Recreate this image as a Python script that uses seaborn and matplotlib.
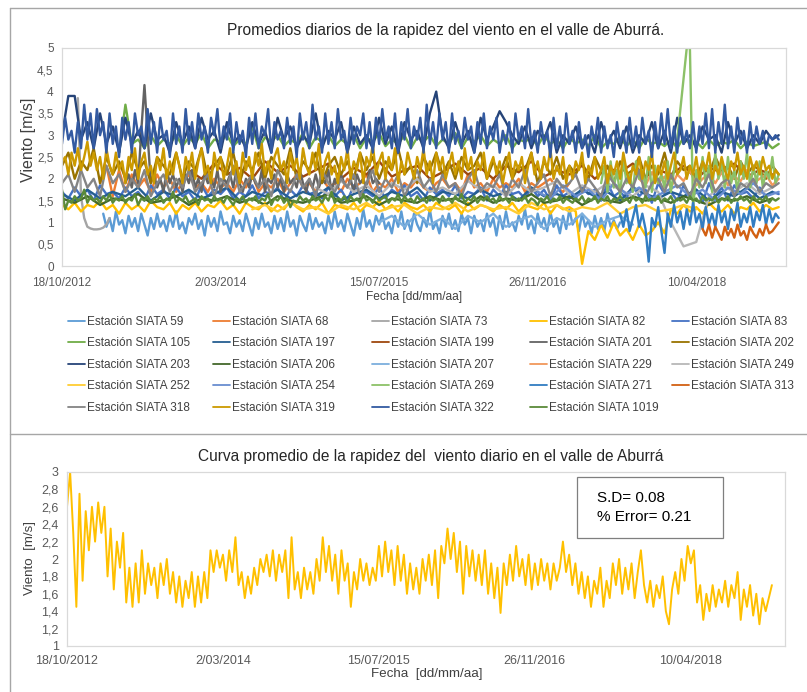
import numpy as np
import pandas as pd
import matplotlib
matplotlib.use("Agg")
import matplotlib.pyplot as plt
from matplotlib.patches import Rectangle
from matplotlib.lines import Line2D
from matplotlib.ticker import FixedLocator, FuncFormatter
import matplotlib.dates as mdates
import seaborn as sns

sns.set_theme(style="white")
plt.rcParams["font.family"] = ["Liberation Sans", "DejaVu Sans"]

# ------------------------------------------------------------------ data
fecha_inicio = pd.Timestamp("2012-10-18")

estaciones = ["59", "68", "73", "82", "83", "105", "197", "199", "201", "202",
              "203", "206", "207", "229", "249", "252", "254", "269", "271",
              "313", "318", "319", "322", "1019"]

colores = ["#5B9BD5", "#ED7D31", "#A5A5A5", "#FFC000", "#4472C4", "#70AD47",
           "#255E91", "#9E480E", "#636363", "#997300", "#264478", "#43682B",
           "#7CAFDD", "#F1975A", "#B7B7B7", "#FFCD33", "#698ED0", "#8CC168",
           "#327DC2", "#D26012", "#848484", "#CC9A00", "#335AA1", "#5A8A39"]

# first day of each record (days after fecha_inicio) and spacing of the samples
inicio = {"59": 130, "68": 120, "73": 50, "82": 0, "83": 0, "105": 180,
          "197": 0, "199": 400, "201": 200, "202": 0, "203": 0, "206": 0,
          "207": 1000, "229": 1820, "249": 800, "252": 600, "254": 1500,
          "269": 1700, "271": 1760, "313": 2020, "318": 0, "319": 0,
          "322": 0, "1019": 0}
paso = {"59": 10, "68": 20, "73": 10, "82": 20, "83": 20, "105": 20,
        "197": 40, "199": 40, "201": 10, "202": 20, "203": 20, "206": 40,
        "207": 40, "229": 20, "249": 40, "252": 40, "254": 40, "269": 10,
        "271": 10, "313": 10, "318": 20, "319": 10, "322": 10, "1019": 10}

v59 = [1.2, 0.9, 1.1, 0.8, 1.25, 0.95, 1.05, 0.75, 1.15, 0.9,
       1.1, 0.8, 1.2, 0.95, 0.7, 1.1, 0.85, 1.2, 0.9, 1.05,
       0.8, 1.15, 0.9, 1.25, 0.85, 1.0, 0.75, 1.1, 0.95, 1.2,
       0.85, 1.05, 0.7, 1.15, 0.9, 1.1, 0.8, 1.25, 0.95, 1.0,
       0.75, 1.15, 0.9, 1.05, 0.8, 1.2, 0.95, 0.7, 1.1, 0.85,
       1.2, 0.9, 1.0, 0.75, 1.15, 0.85, 1.1, 0.8, 1.25, 0.9,
       1.05, 0.7, 1.15, 0.95, 0.8, 1.2, 0.85, 1.1, 0.9, 1.0,
       0.75, 1.15, 0.85, 1.25, 0.9, 1.05, 0.8, 1.2, 0.95, 0.7,
       1.1, 0.85, 1.3, 0.9, 1.05, 0.8, 1.15, 0.95, 1.2, 0.85,
       1.0, 0.75, 1.15, 0.9, 1.25, 0.85, 1.05, 0.8, 1.2, 0.95,
       0.8, 1.1, 0.9, 1.3, 0.85, 1.0, 0.75, 1.15, 0.9, 1.2,
       0.85, 1.05, 0.8, 1.2, 0.95, 1.1, 0.75, 1.15, 0.9, 1.05,
       0.8, 1.2, 0.9, 1.1, 0.7, 1.15, 0.85, 1.25, 0.9, 1.0,
       0.8, 1.15, 0.95, 1.3, 0.85, 1.05, 0.75, 1.2, 0.9, 1.1,
       0.8, 1.25, 0.9, 1.05, 0.75, 1.15, 0.85, 1.3, 0.95, 1.1,
       0.8, 1.2, 0.9, 1.05, 0.75, 1.15, 0.85, 1.1, 0.8, 1.2,
       0.9, 1.05, 0.85, 1.0]
v68 = [1.9, 2.3, 1.6, 2.2, 1.7, 2.1, 1.8, 2.0, 1.7, 2.1,
       1.8, 2.0, 1.7, 1.9, 2.1, 1.8, 1.9, 1.7, 2.0, 1.8,
       1.9, 1.7, 2.0, 1.8, 2.1, 1.7, 1.9, 1.8, 2.0, 1.7,
       1.9, 2.1, 1.8, 1.9, 1.7, 2.0, 1.8, 1.9, 1.7, 2.0,
       1.8, 1.9, 2.1, 1.7, 1.9, 1.8, 2.0, 1.7, 1.9, 1.8,
       2.0, 1.8, 1.7, 1.9, 2.0, 1.8, 1.9, 1.7, 2.1, 1.8,
       1.9, 1.7, 2.0, 1.8, 1.9, 1.8, 2.0, 1.7, 1.9, 1.8,
       1.9, 2.0, 1.8, 1.7, 1.9]
v73 = [3.85, 1.6, 1.1, 0.9, 0.86, 0.84, 0.84, 0.85, 0.88, 0.95, 1.1]
v82 = [1.4, 1.3, 1.45, 1.25, 1.4, 1.35, 1.5, 1.3, 1.4, 1.2,
       1.45, 1.3, 1.4, 1.25, 1.5, 1.35, 1.3, 1.45, 1.2, 1.4,
       1.3, 1.45, 1.25, 1.4, 1.35, 1.5, 1.3, 1.4, 1.2, 1.45,
       1.35, 1.3, 1.45, 1.25, 1.4, 1.3, 1.5, 1.35, 1.25, 1.4,
       1.3, 1.45, 1.2, 1.4, 1.35, 1.3, 1.45, 1.25, 1.4, 1.35,
       1.5, 1.3, 1.4, 1.25, 1.45, 1.35, 1.3, 1.4, 1.25, 1.45,
       1.35, 1.3, 1.4, 1.2, 1.45, 1.3, 1.4, 1.35, 1.25, 1.4,
       1.3, 1.45, 1.25, 1.4, 1.35, 1.3, 1.45, 1.2, 1.4, 1.3,
       1.35, 1.25, 0.05, 0.8, 0.6, 0.95, 0.65, 1.0, 0.7, 0.85,
       0.6, 0.95, 0.7, 0.8, 1.0, 0.75, 1.3, 1.2, 1.4, 1.25,
       1.35, 1.2, 1.45, 1.3, 1.25, 1.4, 1.2, 1.35, 1.3, 1.45,
       1.25, 1.4, 1.3, 1.35]
v83 = [1.7, 1.55, 1.8, 1.6, 1.75, 1.5, 1.85, 1.65, 1.7, 1.55,
       1.8, 1.6, 1.7, 1.5, 1.85, 1.65, 1.75, 1.55, 1.8, 1.6,
       1.7, 1.5, 1.85, 1.6, 1.75, 1.65, 1.8, 1.55, 1.7, 1.6,
       1.85, 1.55, 1.7, 1.65, 1.8, 1.5, 1.75, 1.6, 1.85, 1.65,
       1.7, 1.55, 1.8, 1.6, 1.75, 1.5, 1.85, 1.65, 1.7, 1.6,
       1.8, 1.55, 1.75, 1.65, 1.85, 1.6, 1.7, 1.5, 1.8, 1.65,
       1.75, 1.6, 1.85, 1.55, 1.7, 1.65, 1.8, 1.5, 1.75, 1.6,
       1.85, 1.65, 1.7, 1.55, 1.8, 1.6, 1.75, 1.5, 1.85, 1.6,
       1.7, 1.55, 1.8, 1.65, 1.75, 1.5, 1.9, 1.6, 1.7, 1.55,
       1.85, 1.6, 1.75, 1.45, 1.9, 1.65, 1.7, 1.5, 1.85, 1.6,
       1.75, 1.45, 1.9, 1.6, 1.8, 1.5, 1.85, 1.65, 1.7, 1.55,
       1.8, 1.6, 1.7, 1.65]
v105 = [2.6, 3.7, 2.8, 2.9, 2.7, 3.0, 2.75, 2.9, 2.8, 3.0,
        2.75, 2.95, 2.8, 3.05, 2.7, 2.9, 2.85, 3.0, 2.75, 2.9,
        2.8, 3.2, 2.7, 2.95, 2.85, 3.0, 2.75, 2.9, 2.8, 3.05,
        2.7, 2.95, 2.85, 3.0, 2.75, 2.9, 2.8, 3.0, 2.7, 2.95,
        2.85, 3.05, 2.75, 2.9, 2.8, 3.0, 2.7, 2.95, 2.85, 3.0,
        2.75, 2.9, 2.8, 3.05, 2.7, 2.95, 2.85, 3.0, 2.75, 2.9,
        2.8, 3.0, 2.7, 2.9, 2.85, 2.95, 2.75, 3.0, 2.8, 2.9,
        2.7, 2.95, 2.8, 2.9, 2.75, 3.0, 2.7, 2.85, 2.8, 2.95,
        2.75, 2.9, 2.7, 2.95, 2.8, 2.85, 2.75, 2.9, 2.7, 2.95,
        2.8, 2.85, 2.7, 2.9, 2.75, 2.85, 2.8, 2.9, 2.7, 2.85,
        2.75, 2.8, 2.85, 2.7, 2.8]
v197 = [1.65, 1.5, 1.75, 1.55, 1.7, 1.6, 1.8, 1.5, 1.7, 1.6,
        1.75, 1.55, 1.65, 1.8, 1.5, 1.7, 1.6, 1.75, 1.55, 1.7,
        1.6, 1.8, 1.5, 1.65, 1.75, 1.55, 1.7, 1.6, 1.8, 1.5,
        1.7, 1.65, 1.55, 1.75, 1.6, 1.7, 1.5, 1.8, 1.6, 1.65,
        1.55, 1.75, 1.6, 1.7, 1.5, 1.8, 1.65, 1.55, 1.7, 1.6,
        1.75, 1.5, 1.7, 1.6, 1.8, 1.55, 1.7]
v199 = [2.2, 2.0, 2.35, 2.1, 2.25, 2.0, 2.4, 2.15, 2.3, 2.05,
        2.2, 2.35, 2.0, 2.25, 2.1, 2.4, 2.05, 2.2, 2.3, 2.0,
        2.15, 2.35, 2.1, 2.25, 2.0, 2.3, 2.15, 2.4, 2.05, 2.2,
        2.1, 2.3, 2.0, 2.25, 2.15, 2.35, 2.05, 2.2, 2.1, 2.3,
        2.0, 2.25, 2.15, 2.35, 2.05, 2.2, 2.1]
v201 = [1.9, 2.1, 1.8, 2.2, 1.9, 3.1, 4.15, 3.0, 1.9, 2.1,
        1.8, 2.0, 1.7, 2.2, 1.9, 2.1, 1.8, 2.0, 1.7, 2.1,
        1.9, 2.2, 1.8, 2.0, 1.7, 2.1, 1.9, 2.0, 1.8, 2.2,
        1.7, 2.0, 1.9, 2.1, 1.8, 2.2, 1.9, 1.7, 2.0, 1.8,
        2.1, 1.9, 1.8, 2.2, 1.7, 2.0, 1.9, 2.1, 1.8, 2.0,
        1.7, 2.1, 1.9, 2.0, 1.8, 2.2, 1.9, 1.7, 2.0, 1.8,
        2.1, 1.8, 2.0, 1.9, 2.2, 1.7, 2.0, 1.8, 2.1, 1.9,
        1.8, 2.0, 1.7, 2.1, 1.9, 2.0, 1.8, 2.2, 1.9, 2.0,
        1.9]
v202 = [2.3, 2.6, 2.0, 2.4, 2.2, 2.7, 1.9, 2.5, 2.1, 2.4,
        2.0, 2.6, 2.2, 2.4, 1.9, 2.5, 2.3, 2.1, 2.6, 2.0,
        2.4, 2.2, 2.7, 2.0, 2.3, 2.5, 2.1, 2.6, 1.9, 2.4,
        2.2, 2.6, 2.0, 2.5, 2.3, 2.1, 2.7, 2.0, 2.4, 2.2,
        2.6, 1.9, 2.3, 2.5, 2.1, 2.4, 2.0, 2.6, 2.2, 2.5,
        2.0, 2.4, 2.2, 2.7, 2.1, 2.3, 1.9, 2.5, 2.2, 2.6,
        2.1, 2.4, 2.0, 2.5, 2.2, 2.3, 2.6, 2.0, 2.4, 2.1,
        2.5, 2.0, 2.3, 2.2, 2.6, 1.9, 2.4, 2.1, 2.5, 2.0,
        2.3, 2.1, 2.4, 2.0, 2.5, 2.2, 2.3, 1.9, 2.4, 2.1,
        2.2, 2.5, 2.0, 2.3, 2.1, 2.6, 2.0, 2.4, 2.2, 2.3,
        2.0, 2.4, 2.1, 2.5, 2.2, 2.3, 2.0, 2.4, 2.1, 2.3,
        2.2, 2.0, 2.3, 2.1]
v203 = [3.0, 3.9, 3.9, 2.9, 3.3, 2.7, 3.5, 2.8, 3.2, 2.6,
        3.4, 2.8, 3.1, 2.7, 3.5, 2.9, 3.0, 2.6, 3.3, 2.8,
        3.2, 2.7, 3.4, 2.9, 3.1, 2.6, 3.3, 2.8, 3.0, 2.7,
        3.3, 2.8, 3.1, 2.6, 3.4, 2.9, 3.2, 2.7, 3.0, 2.8,
        3.5, 2.7, 3.1, 2.9, 3.3, 2.6, 3.2, 2.8, 3.0, 2.7,
        3.4, 2.8, 3.2, 2.6, 3.3, 2.9, 3.1, 2.7, 3.5, 4.0,
        3.0, 2.7, 3.3, 2.8, 3.1, 2.6, 3.4, 2.9, 3.2, 3.55,
        3.3, 3.0, 2.8, 3.2, 2.7, 3.1, 2.9, 3.3, 2.6, 3.0,
        2.8, 3.2, 2.7, 3.0, 2.6, 3.3, 2.8, 3.1, 2.7, 3.2,
        2.6, 3.0, 2.8, 3.3, 2.7, 3.1, 2.6, 3.4, 2.8, 3.0,
        2.7, 3.2, 2.9, 3.0, 2.6, 3.3, 2.8, 3.1, 2.7, 3.0,
        2.8, 3.1, 2.9, 3.0]
v206 = [1.55, 1.45, 1.6, 1.4, 1.55, 1.5, 1.65, 1.45, 1.5, 1.6,
        1.4, 1.55, 1.5, 1.6, 1.45, 1.55, 1.4, 1.6, 1.5, 1.45,
        1.55, 1.65, 1.45, 1.5, 1.6, 1.4, 1.55, 1.5, 1.45, 1.6,
        1.5, 1.55, 1.4, 1.6, 1.45, 1.55, 1.5, 1.65, 1.45, 1.5,
        1.6, 1.4, 1.55, 1.5, 1.45, 1.6, 1.5, 1.55, 1.45, 1.6,
        1.5, 1.4, 1.55, 1.5, 1.6, 1.45, 1.55]
v207 = [1.0, 1.15, 0.9, 1.2, 0.95, 1.1, 0.85, 1.15, 1.0, 1.2,
        0.9, 1.05, 1.15, 0.85, 1.1, 0.95, 1.2, 0.9, 1.05, 1.15,
        0.95]
v229 = [2.0, 1.85, 2.15, 1.9, 2.05, 1.8, 2.1, 1.95, 2.2, 1.85,
        2.0, 2.1, 1.9, 2.15, 1.85, 2.05, 1.95, 2.2, 1.9, 2.0,
        2.1, 1.85, 2.0]
v249 = [1.8, 1.65, 1.95, 1.7, 1.85, 1.6, 1.9, 1.75, 2.0, 1.7,
        1.8, 1.65, 1.95, 1.75, 1.85, 1.6, 1.9, 1.7, 1.8, 1.95,
        1.65, 1.85, 1.7, 1.9, 1.75, 1.6, 1.85, 1.7,
        1.0, 0.45, 0.55, 1.6, 1.85, 1.7, 1.9, 1.65, 1.8]
v252 = [1.3, 1.4, 1.25, 1.45, 1.3, 1.35, 1.2, 1.4, 1.3, 1.45,
        1.25, 1.35, 1.4, 1.2, 1.35, 1.3, 1.45, 1.25, 1.4, 1.3,
        1.35, 1.2, 1.45, 1.3, 1.4, 1.25, 1.35, 1.3, 1.45, 1.2,
        1.35, 1.4, 1.25, 1.3, 1.4, 1.3]
v254 = [1.7, 1.55, 1.85, 1.6, 1.75, 1.5, 1.9, 1.65, 1.8, 1.55,
        1.7, 1.85, 1.6, 1.75, 1.5, 1.8, 1.65, 1.9, 1.6, 1.7]
v269 = [1.9, 2.3, 1.7, 2.4, 1.8, 2.2, 1.6, 2.5, 1.9, 2.1,
        1.7, 2.4, 2.0, 2.2, 1.8, 2.5, 1.7, 2.3, 1.9, 2.1,
        1.8, 2.4, 1.7, 2.2, 2.9, 3.6, 4.3, 5.0, 5.0, 1.3,
        2.2, 1.8, 2.5, 1.9, 2.3, 1.7, 2.6, 2.0, 2.4, 1.8,
        2.5, 1.9, 2.2, 1.7, 2.4, 2.0, 2.6, 1.8, 2.3, 1.9,
        2.4, 1.8, 2.2, 2.0, 2.5, 1.9, 2.1]
v271 = [1.2, 0.9, 1.3, 0.8, 1.1, 1.4, 0.9, 1.2, 0.85, 0.1,
        1.1, 0.9, 1.35, 0.8, 0.3, 1.2, 0.9, 1.4, 1.0, 1.25,
        0.85, 1.3, 0.95, 1.45, 1.0, 1.2, 0.85, 1.35, 0.95, 1.2,
        0.9, 1.4, 1.0, 1.25, 0.85, 1.3, 1.05, 1.45, 0.9, 1.2,
        1.0, 1.35, 0.9, 1.25, 1.05, 1.4, 0.95, 1.3, 1.0, 1.2,
        1.1]
v313 = [0.85, 0.7, 0.95, 0.65, 0.9, 0.75, 0.6, 0.9, 0.7, 0.85,
        0.65, 0.95, 0.7, 0.8, 0.6, 0.9, 0.75, 0.65, 0.85, 0.7,
        0.95, 0.75, 0.8, 0.9, 1.0]
v318 = [1.9, 2.1, 1.7, 2.2, 1.8, 2.0, 1.6, 2.3, 1.9, 2.1,
        1.7, 2.0, 1.8, 2.2, 1.6, 1.9, 2.1, 1.7, 2.0, 1.8,
        2.2, 1.7, 1.9, 2.1, 1.6, 2.0, 1.8, 2.3, 1.7, 1.9,
        2.1, 1.8, 2.0, 1.6, 2.2, 1.9, 1.7, 2.1, 1.8, 2.0,
        1.6, 2.2, 1.9, 1.7, 2.0, 1.8, 2.1, 1.6, 1.9, 2.2,
        1.7, 2.0, 1.8, 2.1, 1.6, 1.9, 2.2, 1.8, 2.0, 1.7,
        2.1, 1.8, 1.9, 1.6, 2.0, 2.2, 1.7, 1.9, 1.8, 2.1,
        1.6, 2.0, 1.8, 2.2, 1.7, 1.9, 2.1, 1.6, 2.0, 1.8,
        1.9, 2.1, 1.7, 2.0, 1.8, 1.6, 2.1, 1.9, 1.7, 2.0,
        1.8, 2.2, 1.6, 1.9, 2.0, 1.7, 2.1, 1.8, 1.9, 1.6,
        2.0, 1.8, 2.1, 1.7, 1.9, 2.0, 1.6, 1.9, 1.8, 2.0,
        1.7, 1.9, 1.8, 1.9]
v319 = [2.4, 2.5, 2.1, 2.6, 2.3, 2.7, 2.2, 2.5, 2.85, 2.3,
        2.6, 2.2, 2.5, 2.0, 2.7, 2.3, 2.1, 2.6, 2.2, 2.4,
        1.9, 2.5, 2.2, 2.7, 2.0, 2.4, 2.6, 2.1, 2.3, 1.9,
        2.5, 2.2, 2.7, 2.0, 2.4, 2.1, 2.6, 2.3, 1.9, 2.5,
        2.2, 2.6, 2.0, 2.4, 2.7, 2.1, 2.3, 1.9, 2.6, 2.2,
        2.5, 2.0, 2.3, 2.7, 2.1, 2.4, 1.9, 2.6, 2.2, 2.5,
        2.0, 2.6, 2.3, 2.8, 2.1, 2.4, 2.0, 2.5, 2.7, 2.2,
        2.4, 1.9, 2.6, 2.2, 2.5, 2.0, 2.7, 2.3, 2.1, 2.6,
        2.2, 2.8, 2.0, 2.4, 2.6, 2.1, 2.3, 1.9, 2.5, 2.2,
        2.7, 2.0, 2.4, 2.2, 2.6, 1.9, 2.5, 2.3, 2.8, 2.1,
        2.4, 2.6, 2.0, 2.5, 2.2, 2.7, 1.9, 2.4, 2.1, 2.6,
        2.3, 2.0, 2.5, 2.2, 2.7, 2.1, 2.4, 1.9, 2.6, 2.2,
        2.5, 2.0, 2.3, 2.6, 2.1, 2.4, 2.0, 2.7, 2.2, 2.5,
        1.9, 2.4, 2.2, 2.6, 2.0, 2.3, 2.5, 2.1, 2.4, 1.9,
        2.3, 2.6, 2.0, 2.4, 2.2, 2.5, 1.9, 2.3, 2.6, 2.1,
        2.4, 2.0, 2.5, 2.2, 2.7, 2.0, 2.3, 2.1, 2.5, 1.9,
        2.3, 2.0, 2.4, 2.2, 2.6, 1.9, 2.3, 2.1, 2.5, 2.0,
        2.2, 2.5, 1.9, 2.3, 2.1, 2.4, 2.0, 2.6, 2.2, 1.9,
        2.3, 2.1, 2.5, 2.0, 2.4, 2.2, 2.6, 1.9, 2.3, 2.1,
        2.4, 2.0, 2.3, 2.6, 2.1, 2.2, 2.5, 2.0, 2.3, 2.1,
        2.5, 2.0, 2.4, 2.2, 2.6, 2.0, 2.3, 2.1, 2.5, 2.2,
        2.0, 2.4, 2.2, 2.6, 2.1, 2.3, 2.0, 2.5, 2.2, 2.4,
        2.1, 2.5, 2.2, 2.3, 2.0, 2.2, 2.1]
v322 = [2.8, 3.4, 2.9, 3.1, 2.6, 3.3, 2.7, 3.7, 2.9, 3.5,
        2.7, 3.6, 3.0, 3.3, 2.6, 3.5, 2.8, 3.2, 2.5, 3.4,
        2.9, 3.3, 2.6, 3.5, 3.0, 3.2, 2.7, 3.6, 2.8, 3.3,
        2.6, 3.4, 2.9, 3.1, 2.5, 3.5, 2.8, 3.2, 2.6, 3.6,
        2.8, 3.3, 2.7, 3.5, 2.9, 3.2, 2.6, 3.4, 3.0, 3.6,
        2.7, 3.2, 2.9, 3.5, 2.6, 3.3, 2.8, 3.1, 2.5, 3.4,
        2.8, 3.5, 2.7, 3.2, 3.0, 3.6, 2.6, 3.3, 2.9, 3.1,
        2.7, 3.4, 2.8, 3.2, 2.5, 3.5, 2.9, 3.3, 2.7, 3.7,
        2.9, 3.2, 2.6, 3.5, 2.8, 3.3, 2.7, 3.6, 2.9, 3.1,
        2.6, 3.4, 2.8, 3.2, 3.0, 3.5, 2.7, 3.3, 2.6, 3.4,
        2.8, 3.6, 2.9, 3.2, 2.7, 3.5, 2.6, 3.3, 2.9, 3.6,
        2.7, 3.2, 2.9, 3.4, 2.6, 3.7, 2.8, 3.3, 2.7, 3.5,
        2.9, 3.3, 2.6, 3.5, 2.8, 3.1, 2.7, 3.4, 2.9, 3.2,
        2.6, 3.3, 2.8, 3.5, 2.7, 3.2, 2.9, 3.4, 2.6, 3.1,
        2.8, 3.3, 2.6, 3.5, 2.9, 3.2, 2.7, 3.6, 2.8, 3.1,
        2.6, 3.3, 2.8, 3.1, 2.5, 3.4, 2.7, 3.2, 2.6, 3.5,
        2.8, 3.1, 2.6, 3.3, 2.7, 3.0, 2.5, 3.2, 2.8, 3.4,
        2.6, 3.2, 2.7, 3.0, 2.5, 3.3, 2.8, 3.1, 2.6, 3.4,
        2.7, 3.2, 2.6, 3.4, 2.8, 3.1, 2.5, 3.3, 2.7, 3.5,
        2.8, 3.6, 2.7, 3.2, 2.6, 3.4, 2.8, 3.1, 2.7, 3.3,
        2.6, 3.2, 2.8, 3.5, 2.7, 3.6, 2.6, 3.3, 2.8, 3.7,
        2.7, 3.2, 2.6, 3.4, 2.8, 3.1, 2.6, 3.3, 2.7, 3.2,
        2.8, 3.1, 2.7, 3.0, 2.9, 3.0, 2.9]
v1019 = [1.75, 1.3, 1.5, 1.45, 1.6, 1.5, 1.55, 1.75, 1.45, 1.6,
         1.5, 1.55, 1.45, 1.6, 1.5, 1.65, 1.45, 1.55, 1.5, 1.6,
         1.45, 1.55, 1.5, 1.65, 1.4, 1.55, 1.5, 1.6, 1.45, 1.55,
         1.5, 1.6, 1.45, 1.55, 1.5, 1.7, 1.45, 1.55, 1.5, 1.6,
         1.45, 1.5, 1.55, 1.4, 1.6, 1.5, 1.55, 1.45, 1.6, 1.5,
         1.55, 1.45, 1.6, 1.5, 1.4, 1.55, 1.5, 1.6, 1.45, 1.55,
         1.5, 1.6, 1.45, 1.55, 1.5, 1.65, 1.4, 1.55, 1.5, 1.6,
         1.45, 1.55, 1.35, 1.5, 1.45, 1.6, 1.5, 1.55, 1.45, 1.6,
         1.5, 1.55, 1.45, 1.6, 1.5, 1.7, 1.45, 1.55, 1.5, 1.6,
         1.45, 1.6, 1.5, 1.55, 1.45, 1.65, 1.5, 1.55, 1.45, 1.6,
         1.5, 1.55, 1.6, 1.45, 1.55, 1.5, 1.65, 1.45, 1.6, 1.5,
         1.55, 1.45, 1.6, 1.5, 1.55, 1.45, 1.6, 1.5, 1.55, 1.45,
         1.6, 1.5, 1.55, 1.45, 1.6, 1.5, 1.65, 1.45, 1.55, 1.5,
         1.6, 1.45, 1.55, 1.5, 1.6, 1.5, 1.55, 1.45, 1.6, 1.5,
         1.55, 1.45, 1.6, 1.5, 1.55, 1.5, 1.6, 1.45, 1.55, 1.5,
         1.4, 1.55, 1.5, 1.6, 1.45, 1.55, 1.5, 1.6, 1.45, 1.55,
         1.5, 1.45, 1.55, 1.5, 1.6, 1.45, 1.55, 1.5, 1.6, 1.45,
         1.55, 1.5, 1.6, 1.45, 1.55, 1.5, 1.6, 1.5, 1.55, 1.45,
         1.6, 1.5, 1.55, 1.45, 1.6, 1.5, 1.55, 1.5, 1.6, 1.45,
         1.55, 1.5, 1.6, 1.45, 1.55, 1.5, 1.55, 1.45, 1.6, 1.5,
         1.55, 1.45, 1.6, 1.5, 1.55, 1.5, 1.6, 1.45, 1.55, 1.5,
         1.6, 1.45, 1.55, 1.5, 1.6, 1.5, 1.55, 1.45, 1.6, 1.5,
         1.55, 1.5, 1.6, 1.45, 1.55, 1.5, 1.55]

valores = {"59": v59, "68": v68, "73": v73, "82": v82, "83": v83,
           "105": v105, "197": v197, "199": v199, "201": v201, "202": v202,
           "203": v203, "206": v206, "207": v207, "229": v229, "249": v249,
           "252": v252, "254": v254, "269": v269, "271": v271, "313": v313,
           "318": v318, "319": v319, "322": v322, "1019": v1019}

# valley-wide daily mean (10-day samples)
promedio_paso = 10
promedio = [2.6, 3.0, 2.3, 1.45, 2.75, 1.75, 2.55, 2.1, 2.6, 2.2,
            2.65, 2.3, 2.6, 1.8, 2.35, 1.65, 2.2, 1.9, 2.3, 1.5,
            1.9, 1.45, 1.95, 1.5, 2.1, 1.6, 1.95, 1.7, 1.9, 1.55,
            1.95, 1.7, 2.0, 1.6, 1.85, 1.5, 1.8, 1.45, 1.75, 1.55,
            1.85, 1.45, 1.8, 1.5, 1.85, 1.55, 2.1, 1.85, 2.1, 1.9,
            2.05, 1.75, 2.1, 1.85, 2.25, 1.7, 1.85, 1.55, 1.8, 1.6,
            1.9, 1.7, 2.0, 1.85, 2.05, 1.8, 2.1, 1.75, 2.05, 1.85,
            2.1, 1.55, 2.25, 1.65, 1.85, 1.55, 1.9, 1.65, 1.85, 1.6,
            2.0, 1.75, 2.25, 1.85, 2.15, 1.75, 2.05, 1.6, 2.1, 1.75,
            1.95, 1.45, 1.85, 1.65, 2.0, 1.75, 1.95, 1.7, 1.9, 1.75,
            2.15, 1.8, 2.2, 1.85, 2.1, 1.7, 2.15, 1.75, 2.05, 1.6,
            1.95, 1.65, 1.9, 1.6, 2.0, 1.75, 2.05, 1.7, 2.1, 1.55,
            2.15, 1.95, 2.35, 2.0, 2.3, 1.85, 2.2, 1.6, 2.15, 1.8,
            2.1, 1.75, 2.05, 1.7, 2.1, 1.6, 1.95, 1.55, 1.9, 1.38,
            1.95, 1.7, 2.05, 1.75, 2.15, 1.8, 2.0, 1.7, 2.05, 1.65,
            1.95, 1.7, 2.0, 1.75, 1.95, 1.65, 1.95, 1.75, 1.9, 2.2,
            1.85, 2.05, 1.7, 1.95, 1.6, 1.85, 1.55, 1.8, 1.45, 1.75,
            1.6, 1.9, 1.45, 1.75, 1.55, 1.95, 1.7, 2.0, 1.6, 1.9,
            1.65, 1.95, 1.55, 1.85, 2.1, 1.7, 1.5, 1.75, 1.45, 1.7,
            1.55, 1.8, 1.4, 1.25, 1.65, 1.85, 1.6, 2.0, 1.75, 2.15,
            1.95, 2.1, 1.5, 1.7, 1.3, 1.6, 1.4, 1.7, 1.45, 1.65,
            1.5, 1.75, 1.45, 1.7, 1.55, 1.85, 1.3, 1.65, 1.45, 1.7,
            1.35, 1.6, 1.25, 1.55, 1.4, 1.55, 1.7]

desviacion = "0.08"
error_pct = "0.21"

ticks_fecha = ["2012-10-18", "2014-03-02", "2015-07-15", "2016-11-26", "2018-04-10"]

# ------------------------------------------------------------------ frames
filas = []
for est in estaciones:
    vals = valores[est]
    dias = inicio[est] + paso[est] * np.arange(len(vals))
    filas.append(pd.DataFrame({
        "Fecha": fecha_inicio + pd.to_timedelta(dias, unit="D"),
        "Viento": vals,
        "Estación": "Estación SIATA " + est,
    }))
df = pd.concat(filas, ignore_index=True)
nombres = ["Estación SIATA " + e for e in estaciones]

df_prom = pd.DataFrame({
    "Fecha": fecha_inicio + pd.to_timedelta(promedio_paso * np.arange(len(promedio)), unit="D"),
    "Viento": promedio,
})

# ------------------------------------------------------------------ figure
W, H = 807, 692
fig = plt.figure(figsize=(W / 100, H / 100), dpi=100)
fig.patch.set_facecolor("white")


def fx(px):
    return px / W


def fy(py):
    return 1 - py / H


ax1 = fig.add_axes([fx(62), fy(266), fx(786 - 62), (266 - 48) / H])
ax2 = fig.add_axes([fx(67), fy(646), fx(785 - 67), (646 - 472) / H])

sns.lineplot(data=df, x="Fecha", y="Viento", hue="Estación", hue_order=nombres,
             palette=colores, estimator=None, sort=False, linewidth=1.7,
             ax=ax1, legend=True)
sns.lineplot(data=df_prom, x="Fecha", y="Viento", color="#FFC000",
             linewidth=1.4, ax=ax2)

handles, labels = ax1.get_legend_handles_labels()
ax1.get_legend().remove()

tick_dates = [pd.Timestamp(t) for t in ticks_fecha]


def fmt_fecha(x, pos=None):
    d = mdates.num2date(x)
    return f"{d.day}/{d.month:02d}/{d.year}"


def fmt_coma(v, pos=None):
    return f"{v:.1f}".rstrip("0").rstrip(".").replace(".", ",")


for ax, xmax_days, ylo, yhi, ystep, fs, xpad in [
        (ax1, 2283, 0, 5, 0.5, 8.5, 8), (ax2, 2302, 1, 3, 0.2, 9.0, 6.5)]:
    ax.set_xlim(fecha_inicio, fecha_inicio + pd.Timedelta(days=xmax_days))
    ax.set_ylim(ylo, yhi)
    ax.xaxis.set_major_locator(FixedLocator(mdates.date2num(tick_dates)))
    ax.xaxis.set_major_formatter(FuncFormatter(fmt_fecha))
    ax.yaxis.set_major_locator(FixedLocator(np.arange(ylo, yhi + 1e-6, ystep)))
    ax.yaxis.set_major_formatter(FuncFormatter(fmt_coma))
    ax.tick_params(length=0, labelsize=fs, colors="#595959")
    ax.tick_params(axis="x", pad=xpad)
    ax.tick_params(axis="y", pad=6)
    ax.set_xlabel("")
    ax.set_ylabel("")
    ax.grid(False)
    for s in ax.spines.values():
        s.set_color("#D9D9D9")
        s.set_linewidth(0.9)

# titles and axis labels
fig.text(fx(446), fy(31), "Promedios diarios de la rapidez del viento en el valle de Aburrá.",
         ha="center", va="center", fontsize=11.2, color="#262626")
fig.text(fx(28), fy(140), "Viento [m/s]", rotation=90, ha="center", va="center",
         fontsize=11.5, color="#404040")
fig.text(fx(414), fy(297), "Fecha [dd/mm/aa]", ha="center", va="center",
         fontsize=8.6, color="#404040")

fig.text(fx(431), fy(457), "Curva promedio de la rapidez del  viento diario en el valle de Aburrá",
         ha="center", va="center", fontsize=11.2, color="#262626")
fig.text(fx(30), fy(558), "Viento  [m/s]", rotation=90, ha="center", va="center",
         fontsize=9.6, color="#404040")
fig.text(fx(427), fy(674), "Fecha  [dd/mm/aa]", ha="center", va="center",
         fontsize=9.6, color="#404040")

# statistics box
fig.add_artist(Rectangle((fx(577), fy(538)), fx(723 - 577), (538 - 477) / H,
                         transform=fig.transFigure, facecolor="white",
                         edgecolor="#7F7F7F", linewidth=0.9))
fig.text(fx(597), fy(498), f"S.D= {desviacion}", ha="left", va="center",
         fontsize=11, color="#000000")
fig.text(fx(597), fy(517), f"% Error= {error_pct}", ha="left", va="center",
         fontsize=11, color="#000000")

# legend: five columns, entries run left to right row by row
ncol = 5
col_x = [68, 213, 372, 530, 672]
for c in range(ncol):
    idx = list(range(c, len(handles), ncol))
    col_handles = [Line2D([0], [0], color=handles[i].get_color(), linewidth=1.3) for i in idx]
    col_labels = [labels[i] for i in idx]
    fig.legend(col_handles, col_labels, ncol=1, loc="upper left",
               bbox_to_anchor=(fx(col_x[c]), fy(316)), frameon=False, fontsize=8.5,
               handlelength=1.45, handletextpad=0.15, labelspacing=0.8,
               labelcolor="#404040", borderaxespad=0, borderpad=0)

# panel frame lines
for (x0, y0, x1, y1) in [(10, 8, 807, 8), (10, 8, 10, 692), (10, 434, 807, 434)]:
    fig.add_artist(Line2D([fx(x0), fx(x1)], [fy(y0), fy(y1)], transform=fig.transFigure,
                          color="#A6A6A6", linewidth=1.0))

fig.savefig("out.png", dpi=100, facecolor="white")
